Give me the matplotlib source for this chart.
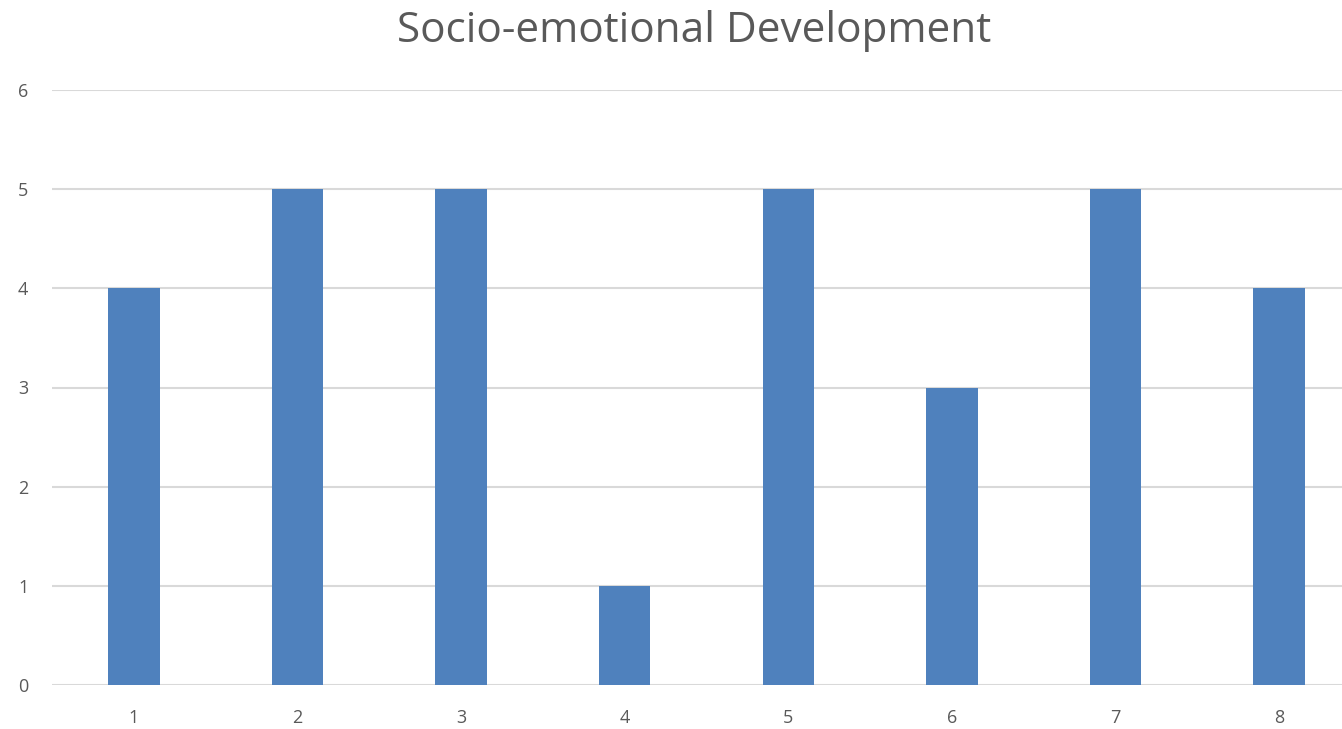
import matplotlib
matplotlib.use("Agg")
import matplotlib.pyplot as plt

categories = ["1", "2", "3", "4", "5", "6", "7", "8"]
scores = [4, 5, 5, 1, 5, 3, 5, 4]
y_ticks = [0, 1, 2, 3, 4, 5, 6]

W, H = 1342, 729
fig = plt.figure(figsize=(W / 100, H / 100), dpi=100)
fig.patch.set_facecolor("white")

left, right, top, bottom = 52, 1342, 90, 685
ax = fig.add_axes([left / W, (H - bottom) / H, (right - left) / W, (bottom - top) / H])

x = list(range(1, len(categories) + 1))
ax.bar(x, scores, width=0.315, color="#4F81BD", zorder=3)

ax.set_ylim(0, 6)
ax.set_xlim(0.5, 8.384)
ax.set_yticks(y_ticks)
ax.set_xticks(x)
ax.set_xticklabels(categories)
ax.yaxis.grid(True, color="#D9D9D9", linewidth=1.5, zorder=0)
ax.set_axisbelow(True)
for s in ax.spines.values():
    s.set_visible(False)
ax.tick_params(axis="both", length=0, labelsize=13, labelcolor="#595959")
ax.tick_params(axis="y", pad=17)
ax.tick_params(axis="x", pad=17)
for lab in ax.get_xticklabels() + ax.get_yticklabels():
    lab.set_family("Open Sans")

fig.text(694 / W, 1 - 31 / H, "Socio-emotional Development", ha="center", va="center",
         fontsize=30.4, color="#595959", family="Open Sans")

fig.savefig("out.png", dpi=100)
